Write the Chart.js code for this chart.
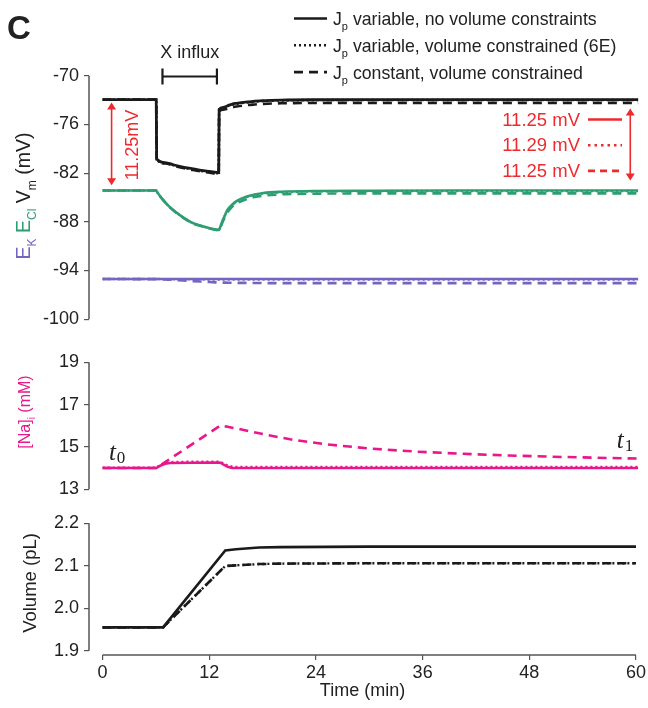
<!DOCTYPE html>
<html>
<head>
<meta charset="utf-8">
<script src="https://cdn.jsdelivr.net/npm/chart.js@4.4.1/dist/chart.umd.min.js"></script>
<style>
  body { margin: 0; background: #fff; }
  #wrap { position: relative; width: 648px; height: 708px; }
  canvas { position: absolute; left: 0; }
</style>
</head>
<body>
<div id="wrap">
  <canvas id="cVm" width="648" height="335" style="top:0;width:648px;height:335px"></canvas>
  <canvas id="cNa" width="648" height="165" style="top:340px;width:648px;height:165px"></canvas>
  <canvas id="cVol" width="648" height="203" style="top:505px;width:648px;height:203px"></canvas>
</div>
<script>
// ---- data ----
const xTicks = [0, 12, 24, 36, 48, 60];

const tVm = [0, 6, 6.05, 7, 8, 9, 10, 11, 12, 13, 13.05, 13.5, 14, 14.5, 15, 16, 17, 18, 20, 24, 30, 40, 50, 60];
const vmSolid  = [-72.95, -72.95, -80.25, -80.7, -81.0, -81.25, -81.45, -81.65, -81.8, -81.95, -74.15, -73.9, -73.7, -73.5, -73.4, -73.25, -73.15, -73.07, -73.0, -72.96, -72.95, -72.95, -72.95, -72.95];
const vmDotted = [-72.95, -72.95, -80.3, -80.75, -81.07, -81.32, -81.53, -81.72, -81.88, -82.02, -74.2, -73.95, -73.75, -73.57, -73.45, -73.3, -73.2, -73.12, -73.05, -73.0, -72.99, -72.99, -72.99, -72.99];
const vmDashed = [-72.95, -72.95, -80.35, -80.8, -81.12, -81.38, -81.6, -81.8, -81.95, -82.1, -74.45, -74.2, -74.05, -73.9, -73.8, -73.65, -73.55, -73.47, -73.4, -73.36, -73.35, -73.35, -73.35, -73.35];
const eclSolid  = [-84.15, -84.15, -84.25, -85.6, -86.65, -87.45, -88.1, -88.5, -88.8, -89.0, -88.95, -87.7, -86.5, -85.9, -85.45, -84.93, -84.65, -84.45, -84.3, -84.2, -84.17, -84.15, -84.15, -84.15];
const eclDotted = [-84.15, -84.15, -84.25, -85.6, -86.65, -87.45, -88.1, -88.5, -88.8, -89.0, -88.95, -87.72, -86.55, -85.95, -85.5, -85.0, -84.7, -84.52, -84.37, -84.25, -84.22, -84.2, -84.2, -84.2];
const eclDashed = [-84.15, -84.15, -84.25, -85.62, -86.68, -87.48, -88.13, -88.53, -88.83, -89.03, -88.98, -87.85, -86.8, -86.15, -85.75, -85.25, -84.95, -84.78, -84.62, -84.53, -84.5, -84.5, -84.5, -84.5];
const ekSolid  = [-95.05, -95.05, -95.05, -95.05, -95.05, -95.05, -95.05, -95.05, -95.05, -95.05, -95.05, -95.05, -95.05, -95.05, -95.05, -95.05, -95.05, -95.05, -95.05, -95.05, -95.05, -95.05, -95.05, -95.05];
const ekDotted = [-95.05, -95.05, -95.05, -95.06, -95.07, -95.08, -95.09, -95.1, -95.1, -95.1, -95.1, -95.1, -95.1, -95.1, -95.1, -95.1, -95.1, -95.1, -95.1, -95.1, -95.1, -95.1, -95.1, -95.1];
const ekDashed = [-95.05, -95.06, -95.06, -95.1, -95.17, -95.24, -95.3, -95.36, -95.42, -95.47, -95.47, -95.49, -95.5, -95.51, -95.52, -95.53, -95.54, -95.55, -95.55, -95.55, -95.55, -95.55, -95.55, -95.55];
const vmTickVals = [-100, -94, -88, -82, -76, -70];
const vmTickLabels = ['-100', '-94', '-88', '-82', '-76', '-70'];

const tNa = [0, 6, 6.5, 7, 7.5, 10, 13, 13.2, 13.5, 14, 14.5, 15, 18, 21, 25, 30, 35, 40, 45, 50, 55, 60];
const naSolid  = [14.0, 14.0, 14.12, 14.2, 14.24, 14.25, 14.26, 14.25, 14.17, 14.06, 14.01, 14.0, 14.0, 14.0, 14.0, 14.0, 14.0, 14.0, 14.0, 14.0, 14.0, 14.0];
const naDotted = [14.02, 14.02, 14.15, 14.24, 14.28, 14.3, 14.3, 14.29, 14.22, 14.12, 14.07, 14.05, 14.05, 14.05, 14.05, 14.05, 14.05, 14.05, 14.05, 14.05, 14.05, 14.05];
const naDashed = [14.0, 14.0, 14.14, 14.28, 14.42, 15.12, 15.96, 16.02, 15.99, 15.95, 15.91, 15.87, 15.6, 15.36, 15.12, 14.92, 14.78, 14.68, 14.6, 14.54, 14.49, 14.45];
const naTickVals = [13, 15, 17, 19];
const naTickLabels = ['13', '15', '17', '19'];

const tVol = [0, 6.8, 13.8, 15, 17.6, 20, 30, 60];
const volSolid  = [1.955, 1.955, 2.136, 2.139, 2.143, 2.144, 2.145, 2.145];
const volDotted = [1.955, 1.955, 2.0995, 2.101, 2.104, 2.105, 2.106, 2.106];
const volDashed = [1.955, 1.955, 2.0995, 2.101, 2.104, 2.105, 2.106, 2.106];
const volTickVals = [1.9, 2.0, 2.1, 2.2];
const volTickLabels = ['1.9', '2.0', '2.1', '2.2'];

// ---- styles ----
const FONT = '"Liberation Sans", Arial, sans-serif';
const SERIF = '"Liberation Serif", "DejaVu Serif", serif';
const INK = '#222';
const AXIS = '#555';
const BLACK = '#1a1a1a', GREEN = '#2e9e72', PURPLE = '#7366c0', PINK = '#e8178b', RED = '#ee2a2f';
const DASH = { solid: [], dotted: [2, 3], dashed: [9, 6] };
const X_MIN = -1.53, X_MAX = 60;

function ds(times, vals, color, style, width, tension) {
  return {
    data: times.map((t, i) => ({ x: t, y: vals[i] })),
    borderColor: color, borderWidth: width, borderDash: DASH[style],
    pointRadius: 0, fill: false, tension: tension || 0,
    cubicInterpolationMode: tension ? 'monotone' : 'default'
  };
}

const gridOpts = { drawOnChartArea: false, drawTicks: true, tickLength: 5, color: AXIS, lineWidth: 1.2 };

function xScale(show) {
  return {
    type: 'linear', min: X_MIN, max: X_MAX, display: show,
    afterBuildTicks: (s) => { s.ticks = xTicks.map((v) => ({ value: v })); },
    afterFit: (s) => { if (show) s.height = 53; },
    grid: gridOpts,
    border: { display: false },
    ticks: { autoSkip: false, maxRotation: 0, color: INK, padding: 2, font: { family: FONT, size: 18 }, callback: (v) => String(v) },
    title: { display: show, text: 'Time (min)', color: INK, font: { family: FONT, size: 18 }, padding: { top: 0, bottom: 6 } }
  };
}

function yScale(min, max, vals, labels) {
  return {
    type: 'linear', min: min, max: max,
    afterBuildTicks: (s) => { s.ticks = vals.map((v) => ({ value: v })); },
    afterFit: (s) => { s.width = 89; },
    grid: gridOpts,
    border: { display: false },
    ticks: { autoSkip: false, color: INK, padding: 5, font: { family: FONT, size: 18 }, callback: (v, i) => labels[i] }
  };
}

// axis lines that stop at the first / last tick
const spines = {
  id: 'spines',
  afterDraw(chart) {
    const { ctx, chartArea, scales } = chart;
    const x = scales.x, y = scales.y;
    const yt = y.ticks;
    ctx.save();
    ctx.strokeStyle = AXIS;
    ctx.lineWidth = 1.5;
    ctx.beginPath();
    ctx.moveTo(chartArea.left, y.getPixelForValue(yt[yt.length - 1].value));
    ctx.lineTo(chartArea.left, y.getPixelForValue(yt[0].value));
    if (x.options.display) {
      ctx.moveTo(x.getPixelForValue(xTicks[0]), chartArea.bottom);
      ctx.lineTo(x.getPixelForValue(xTicks[xTicks.length - 1]), chartArea.bottom);
    }
    ctx.stroke();
    ctx.restore();
  }
};

// text with subscripts; parts = [{t, sub, color, font}]
function richWidth(ctx, parts, size) {
  let w = 0;
  for (const p of parts) {
    ctx.font = (p.sub ? Math.round(size * 0.62) : size) + 'px ' + (p.font || FONT);
    w += ctx.measureText(p.t).width;
  }
  return w;
}
function drawRich(ctx, parts, x, y, size) {
  let cx = x;
  ctx.textAlign = 'left';
  ctx.textBaseline = 'alphabetic';
  for (const p of parts) {
    const fs = p.sub ? Math.round(size * 0.62) : size;
    ctx.font = (p.style ? p.style + ' ' : '') + fs + 'px ' + (p.font || FONT);
    ctx.fillStyle = p.color || INK;
    ctx.fillText(p.t, cx, y + (p.sub ? size * 0.3 : 0));
    cx += ctx.measureText(p.t).width;
  }
}
function drawRotated(ctx, parts, cx, cy, size) {
  const w = richWidth(ctx, parts, size);
  ctx.save();
  ctx.translate(cx, cy);
  ctx.rotate(-Math.PI / 2);
  drawRich(ctx, parts, -w / 2, 0, size);
  ctx.restore();
}
function seg(ctx, x1, y1, x2, y2, color, width, dash) {
  ctx.save();
  ctx.strokeStyle = color;
  ctx.lineWidth = width;
  ctx.setLineDash(dash || []);
  ctx.beginPath();
  ctx.moveTo(x1, y1);
  ctx.lineTo(x2, y2);
  ctx.stroke();
  ctx.restore();
}
function vArrow(ctx, x, y1, y2, color) {
  seg(ctx, x, y1 + 4, x, y2 - 4, color, 1.6);
  ctx.save();
  ctx.fillStyle = color;
  ctx.beginPath();
  ctx.moveTo(x, y1); ctx.lineTo(x - 4.5, y1 + 7); ctx.lineTo(x + 4.5, y1 + 7); ctx.closePath();
  ctx.moveTo(x, y2); ctx.lineTo(x - 4.5, y2 - 7); ctx.lineTo(x + 4.5, y2 - 7); ctx.closePath();
  ctx.fill();
  ctx.restore();
}

const legendRows = [
  { style: 'solid', text: ' variable, no volume constraints' },
  { style: 'dotted', text: ' variable, volume constrained (6E)' },
  { style: 'dashed', text: ' constant, volume constrained' }
];
const diffRows = [
  { style: 'solid', text: '11.25 mV' },
  { style: 'dotted', text: '11.29 mV' },
  { style: 'dashed', text: '11.25 mV' }
];

const decorVm = {
  id: 'decorVm',
  afterDraw(chart) {
    const { ctx, scales: { x, y } } = chart;
    ctx.save();
    // panel letter
    ctx.font = 'bold 33px ' + FONT;
    ctx.fillStyle = INK;
    ctx.textAlign = 'left';
    ctx.textBaseline = 'alphabetic';
    ctx.fillText('C', 7, 39);
    // legend
    legendRows.forEach((r, i) => {
      const ly = 18.5 + i * 26.8;
      seg(ctx, 294, ly, 327, ly, BLACK, 2.6, DASH[r.style]);
      drawRich(ctx, [{ t: 'J' }, { t: 'p', sub: true }, { t: r.text }], 333, ly + 6.5, 17.7);
    });
    // X influx bracket
    const bx1 = x.getPixelForValue(6.7), bx2 = x.getPixelForValue(12.8), by = 76.5;
    seg(ctx, bx1, by, bx2, by, BLACK, 2);
    seg(ctx, bx1, by - 8, bx1, by + 8, BLACK, 2.2);
    seg(ctx, bx2, by - 8, bx2, by + 8, BLACK, 2.2);
    ctx.font = '18px ' + FONT;
    ctx.fillStyle = INK;
    ctx.textAlign = 'center';
    ctx.fillText('X influx', (bx1 + bx2) / 2, 58);
    // y title
    drawRotated(ctx, [
      { t: 'E', color: PURPLE }, { t: 'K', sub: true, color: PURPLE }, { t: ' ' },
      { t: 'E', color: GREEN }, { t: 'Cl', sub: true, color: GREEN }, { t: ' ' },
      { t: 'V' }, { t: 'm', sub: true }, { t: ' (mV)' }
    ], 30, 196, 19.5);
    // left difference arrow
    const ax = x.getPixelForValue(1.0);
    vArrow(ctx, ax, y.getPixelForValue(-73.3), y.getPixelForValue(-83.5), RED);
    drawRotated(ctx, [{ t: '11.25mV', color: RED }], 138, 145, 18);
    // right difference arrow and values
    vArrow(ctx, x.getPixelForValue(59.1), y.getPixelForValue(-74.05), y.getPixelForValue(-82.9), RED);
    diffRows.forEach((r, i) => {
      const ry = 119.5 + i * 25.7;
      ctx.font = '18.5px ' + FONT;
      ctx.fillStyle = RED;
      ctx.textAlign = 'right';
      ctx.textBaseline = 'middle';
      ctx.fillText(r.text, 580, ry + 1);
      seg(ctx, 588, ry, 622, ry, RED, 2.6, r.style === 'dotted' ? [2.5, 4] : r.style === 'dashed' ? [7, 5] : []);
    });
    ctx.restore();
  }
};

const decorNa = {
  id: 'decorNa',
  afterDraw(chart) {
    const { ctx, scales: { x } } = chart;
    ctx.save();
    drawRotated(ctx, [{ t: '[Na]', color: PINK }, { t: 'i', sub: true, color: PINK }, { t: ' (mM)', color: PINK }], 30, 72, 16);
    const mathT = (sub, px, base) => {
      ctx.textAlign = 'left';
      ctx.textBaseline = 'alphabetic';
      ctx.fillStyle = INK;
      ctx.font = 'italic 25px ' + SERIF;
      ctx.fillText('t', px, base);
      const w = ctx.measureText('t').width;
      ctx.font = '17px ' + SERIF;
      ctx.fillText(sub, px + w + 1, base + 3);
    };
    mathT('0', x.getPixelForValue(0.7), 120);
    mathT('1', x.getPixelForValue(57.6), 108);
    ctx.restore();
  }
};

const decorVol = {
  id: 'decorVol',
  afterDraw(chart) {
    const { ctx } = chart;
    ctx.save();
    drawRotated(ctx, [{ t: 'Volume (pL)' }], 36, 78, 18.5);
    ctx.restore();
  }
};

function baseOptions(pad, showX, yopts) {
  return {
    responsive: false,
    animation: false,
    layout: { padding: pad },
    plugins: { legend: { display: false }, tooltip: { enabled: false } },
    scales: { x: xScale(showX), y: yopts }
  };
}

new Chart(document.getElementById('cVm'), {
  type: 'line',
  data: {
    datasets: [
      ds(tVm, vmDotted, BLACK, 'dotted', 2.6, 0.4),
      ds(tVm, vmSolid, BLACK, 'solid', 2.8, 0.4),
      ds(tVm, vmDashed, BLACK, 'dashed', 2.6, 0.4),
      ds(tVm, eclSolid, GREEN, 'solid', 2.6, 0.4),
      ds(tVm, eclDotted, GREEN, 'dotted', 2.4, 0.4),
      ds(tVm, eclDashed, GREEN, 'dashed', 2.6, 0.4),
      ds(tVm, ekSolid, PURPLE, 'solid', 2.6, 0.4),
      ds(tVm, ekDotted, PURPLE, 'dotted', 2.4, 0.4),
      ds(tVm, ekDashed, PURPLE, 'dashed', 2.6, 0.4)
    ]
  },
  options: baseOptions({ left: 0, right: 9.7, top: 75.7, bottom: 13 }, false,
    yScale(-100, -70, vmTickVals, vmTickLabels)),
  plugins: [spines, decorVm]
});

new Chart(document.getElementById('cNa'), {
  type: 'line',
  data: {
    datasets: [
      ds(tNa, naDotted, PINK, 'dotted', 2.4),
      ds(tNa, naSolid, PINK, 'solid', 2.6),
      ds(tNa, naDashed, PINK, 'dashed', 2.6)
    ]
  },
  options: baseOptions({ left: 0, right: 9.7, top: 22.3, bottom: 11.7 }, false,
    yScale(13, 19, naTickVals, naTickLabels)),
  plugins: [spines, decorNa]
});

new Chart(document.getElementById('cVol'), {
  type: 'line',
  data: {
    datasets: [
      ds(tVol, volSolid, BLACK, 'solid', 2.6),
      ds(tVol, volDotted, BLACK, 'dotted', 2.4),
      ds(tVol, volDashed, BLACK, 'dashed', 2.6)
    ]
  },
  options: baseOptions({ left: 0, right: 9.7, top: 18.3, bottom: 0 }, true,
    yScale(1.8899, 2.2, volTickVals, volTickLabels)),
  plugins: [spines, decorVol]
});
</script>
</body>
</html>
